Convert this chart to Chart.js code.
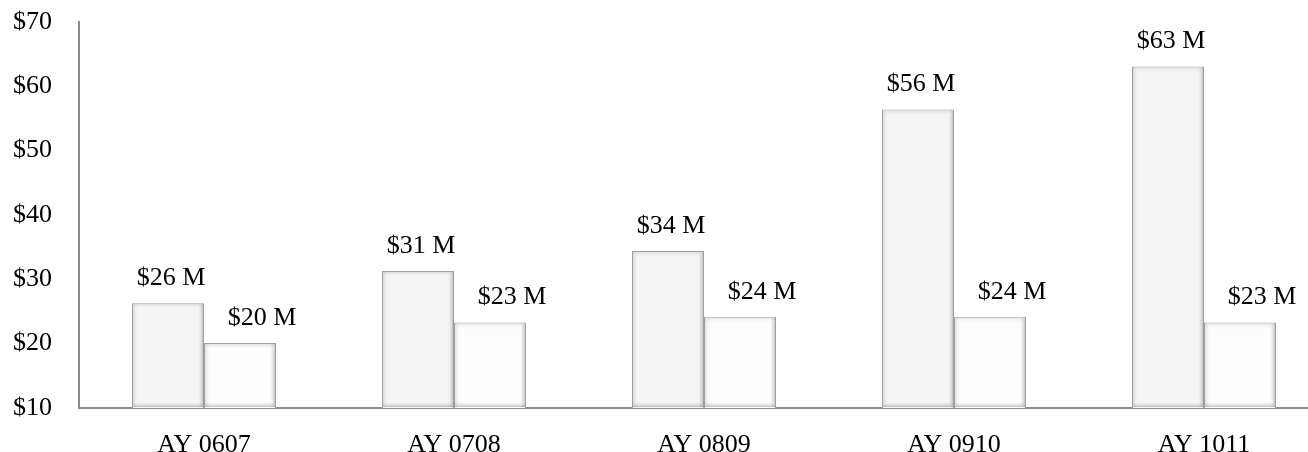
<!DOCTYPE html>
<html>
<head>
<meta charset="utf-8">
<script src="https://cdn.jsdelivr.net/npm/chart.js@4/dist/chart.umd.min.js"></script>
<style>
  html, body { margin: 0; padding: 0; background: #fff; overflow: hidden; }
  #wrap { width: 1330px; height: 452px; }
</style>
</head>
<body>
<div id="wrap"><canvas id="c" width="1330" height="452"></canvas></div>
<script>
// Chart data
const categories = ['AY 0607', 'AY 0708', 'AY 0809', 'AY 0910', 'AY 1011'];
const firstValues = [26.3, 31.3, 34.4, 56.4, 63.1];
const secondValues = [20.1, 23.3, 24.2, 24.2, 23.3];
const yMin = 10;
const yMax = 70;
const yStep = 10;

const FONT = "'Liberation Serif', 'Times New Roman', serif";

// Draw a soft bevel on every bar, using the bar element geometry from the scales
const bevelPlugin = {
    id: 'bevel',
    afterDatasetDraw(chart, args) {
        const c = chart.ctx;
        const area = chart.chartArea;
        args.meta.data.forEach(bar => {
            const left = bar.x - bar.width / 2;
            const right = bar.x + bar.width / 2;
            const top = Math.max(Math.min(bar.y, bar.base), area.top);
            const bottom = Math.min(Math.max(bar.y, bar.base), area.bottom);
            const h = bottom - top;
            const e = 7;
            c.save();
            let g = c.createLinearGradient(left, 0, left + e, 0);
            g.addColorStop(0, 'rgba(150,150,150,0.4)');
            g.addColorStop(1, 'rgba(255,255,255,0)');
            c.fillStyle = g;
            c.fillRect(left + 1, top + 1, e, h - 2);
            g = c.createLinearGradient(right - e, 0, right, 0);
            g.addColorStop(0, 'rgba(255,255,255,0)');
            g.addColorStop(1, 'rgba(110,110,110,0.55)');
            c.fillStyle = g;
            c.fillRect(right - e - 1, top + 1, e, h - 2);
            g = c.createLinearGradient(0, top, 0, top + e);
            g.addColorStop(0, 'rgba(170,170,170,0.4)');
            g.addColorStop(1, 'rgba(255,255,255,0)');
            c.fillStyle = g;
            c.fillRect(left + 1, top + 1, bar.width - 2, e);
            g = c.createLinearGradient(0, bottom - e, 0, bottom);
            g.addColorStop(0, 'rgba(255,255,255,0)');
            g.addColorStop(1, 'rgba(100,100,100,0.55)');
            c.fillStyle = g;
            c.fillRect(left + 1, bottom - e - 1, bar.width - 2, e);
            c.restore();
        });
    },
};

// Value labels above each bar
const valueLabelPlugin = {
    id: 'valueLabels',
    afterDatasetsDraw(chart) {
        const c = chart.ctx;
        c.save();
        c.font = '26px ' + FONT;
        c.fillStyle = '#000';
        c.textAlign = 'center';
        c.textBaseline = 'alphabetic';
        chart.data.datasets.forEach((ds, di) => {
            const meta = chart.getDatasetMeta(di);
            const shift = di === 0 ? 3 : 22;
            meta.data.forEach((bar, i) => {
                c.fillText('$' + Math.round(ds.data[i]) + ' M', bar.x + shift, bar.y - 18);
            });
        });
        c.restore();
    },
};

new Chart(document.getElementById('c'), {
    type: 'bar',
    data: {
        labels: categories,
        datasets: [
            {
                data: firstValues,
                backgroundColor: '#f5f5f5',
                borderColor: '#a0a0a0',
                borderWidth: 1,
                categoryPercentage: 0.576,
                barPercentage: 1.0,
            },
            {
                data: secondValues,
                backgroundColor: '#fdfdfd',
                borderColor: '#a0a0a0',
                borderWidth: 1,
                categoryPercentage: 0.576,
                barPercentage: 1.0,
            },
        ],
    },
    options: {
        responsive: false,
        animation: false,
        devicePixelRatio: 1,
        layout: { padding: { top: 22, right: 1, left: 0, bottom: 0 } },
        plugins: {
            legend: { display: false },
            tooltip: { enabled: false },
        },
        scales: {
            x: {
                grid: { display: false },
                border: { display: true, color: '#8c8c8c', width: 2 },
                ticks: {
                    color: '#000',
                    font: { family: FONT, size: 26 },
                    padding: 14,
                },
                afterFit(scale) { scale.height = 44; },
            },
            y: {
                min: yMin,
                max: yMax,
                grid: { display: false },
                border: { display: true, color: '#8c8c8c', width: 2 },
                ticks: {
                    stepSize: yStep,
                    color: '#000',
                    font: { family: FONT, size: 26 },
                    padding: 19,
                    callback: v => '$' + v,
                },
                afterFit(scale) {
                    scale.width = 79;
                    scale.paddingTop = 0;
                    scale.paddingBottom = 0;
                },
            },
        },
    },
    plugins: [bevelPlugin, valueLabelPlugin],
});
</script>
</body>
</html>
